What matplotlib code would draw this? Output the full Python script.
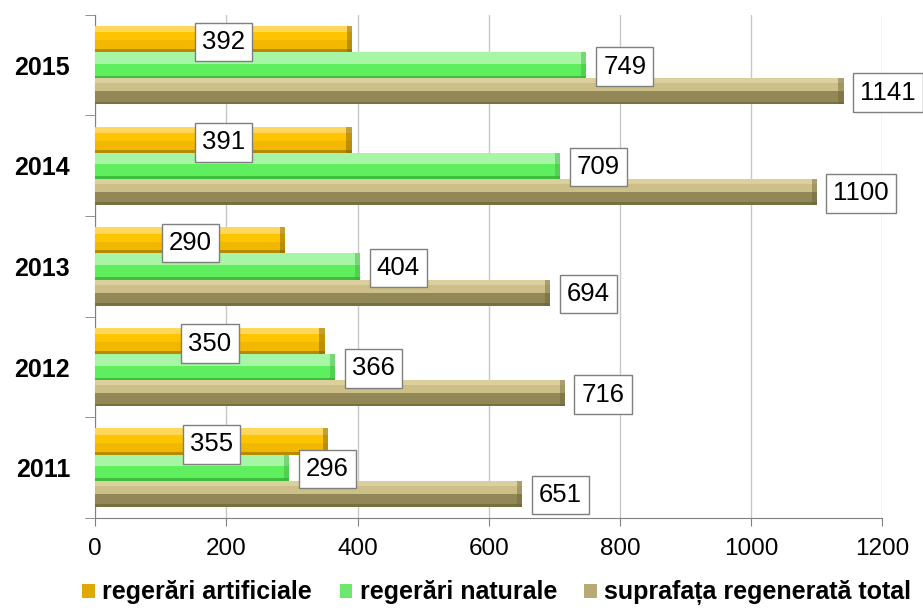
import matplotlib.pyplot as plt
import numpy as np
from matplotlib import font_manager
from matplotlib.patches import Rectangle
from matplotlib.legend_handler import HandlerPatch

years = ["2011", "2012", "2013", "2014", "2015"]
artificiale = [355, 350, 290, 391, 392]
naturale = [296, 366, 404, 709, 749]
total = [651, 716, 694, 1100, 1141]
series_names = ["regerări artificiale", "regerări naturale", "suprafața regenerată total"]

names = {f.name for f in font_manager.fontManager.ttflist}
narrow = "Liberation Sans Narrow" if "Liberation Sans Narrow" in names else "Liberation Sans"
plt.rcParams["font.family"] = ["Liberation Sans", "DejaVu Sans"]

# (fraction from bottom, color) bands, bottom to top
bands = {
    0: [(0.12, "#B88A00"), (0.45, "#F2B800"), (0.75, "#FFC400"), (1.0, "#FFD75A")],
    1: [(0.10, "#3DBF3D"), (0.55, "#5EEE5E"), (1.0, "#A6F6A6")],
    2: [(0.10, "#77703F"), (0.50, "#928857"), (0.80, "#CDBF88"), (1.0, "#DCCF9E")],
}
caps = ["#7A5A00", "#3FB03F", "#6E6638"]
legend_colors = ["#E0A800", "#6CE86C", "#B8AA74"]

fig = plt.figure(figsize=(9.23, 6.16), dpi=100)
ax = fig.add_axes([0.103, 0.159, 0.853, 0.817])

y = np.arange(len(years))
h = 0.26
offsets = [h, 0.0, -h]
data = [artificiale, naturale, total]

for k, vals in enumerate(data):
    base = y + offsets[k] - h / 2
    prev = 0.0
    for frac, col in bands[k]:
        ax.barh(base + prev * h, vals, height=(frac - prev) * h, align="edge",
                color=col, edgecolor="none", zorder=3)
        prev = frac
    # small bevel at the bar end
    ax.barh(base, [8] * len(vals), left=np.array(vals) - 8, height=h, align="edge",
            color=caps[k], alpha=0.45, edgecolor="none", zorder=3)

box = dict(boxstyle="square,pad=0.28", facecolor="white", edgecolor="#7F7F7F", lw=1)
fs = 18.5
for i in range(len(years)):
    ax.annotate(str(artificiale[i]), (artificiale[i] / 2, y[i] + h), xytext=(0, -2),
                textcoords="offset points", ha="center", va="center",
                fontsize=fs, bbox=box, zorder=5)
    ax.annotate(str(naturale[i]), (naturale[i], y[i]), xytext=(12, -1),
                textcoords="offset points", ha="left", va="center",
                fontsize=fs, bbox=box, zorder=5)
    ax.annotate(str(total[i]), (total[i], y[i] - h), xytext=(12, -1),
                textcoords="offset points", ha="left", va="center",
                fontsize=fs, bbox=box, zorder=5)

ax.set_xlim(0, 1200)
ax.set_ylim(-0.5, 4.5)
ax.set_xticks(np.arange(0, 1201, 200))
ax.tick_params(axis="x", labelsize=17.5, length=6, color="#808080", pad=8)
ax.set_yticks(y)
ax.set_yticklabels(years, fontsize=18, fontweight="bold")
ax.tick_params(axis="y", length=0, pad=18)
ax.set_yticks(np.arange(-0.5, 4.6, 1), minor=True)
ax.tick_params(axis="y", which="minor", length=7, color="#808080")
ax.grid(axis="x", color="#C8C8C8", lw=1, zorder=0)
ax.set_axisbelow(True)
for s in ["top", "right"]:
    ax.spines[s].set_visible(False)
for s in ["left", "bottom"]:
    ax.spines[s].set_color("#808080")


class SmallSquare(HandlerPatch):
    def create_artists(self, legend, orig_handle, xdescent, ydescent, width, height, fontsize, trans):
        p = Rectangle((width - 9, 1), 9, 10, facecolor=orig_handle.get_facecolor(),
                      edgecolor="none", transform=trans)
        return [p]


handles = [Rectangle((0, 0), 1, 1, facecolor=c) for c in legend_colors]
fig.legend(handles, series_names, loc="center", bbox_to_anchor=(0.537, 0.038), ncol=3,
           frameon=False, handlelength=0.6, handletextpad=0.3, columnspacing=1.0,
           handler_map={Rectangle: SmallSquare()},
           prop={"family": narrow, "weight": "bold", "size": 18})

fig.savefig("out.png", dpi=100)
